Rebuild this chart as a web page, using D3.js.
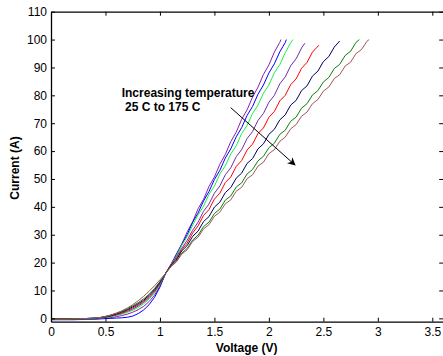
<!DOCTYPE html>
<html>
<head>
<meta charset="utf-8">
<script src="https://cdn.jsdelivr.net/npm/d3@7"></script>
<style>
  body { margin: 0; background: #fff; }
  svg text { font-family: "Liberation Sans", Arial, sans-serif; }
  .axis text { font-size: 12px; fill: #000; }
  .axis path, .axis line { stroke: #000; }
  .lbl { font-size: 12px; font-weight: bold; }
</style>
</head>
<body>
<div id="chart"></div>
<script>
// shared voltage grid (V)
const voltage = [0, 0.1, 0.2, 0.3, 0.4, 0.45, 0.5, 0.55, 0.6, 0.65, 0.7, 0.75, 0.8, 0.85, 0.9, 0.95, 1.0, 1.05,
  1.10, 1.15, 1.20, 1.25, 1.30, 1.35, 1.40, 1.45, 1.50, 1.55, 1.60, 1.65, 1.70, 1.75, 1.80, 1.85, 1.90, 1.95,
  2.00, 2.05, 2.10, 2.15, 2.20, 2.25, 2.30, 2.35, 2.40, 2.45, 2.50, 2.55, 2.60, 2.65, 2.70, 2.75, 2.80, 2.85, 2.90];

// current (A) per curve
const c1 = [-0.4, -0.4, -0.4, -0.3, -0.2, -0.1, 0.1, 0.3, 0.6, 1.0, 1.5, 2.2, 3.1, 4.3, 6.0, 8.3, 11.6, 16,
  19.3, 23.1, 26.6, 31.0, 34.6, 39.3, 42.7, 47.3, 50.7, 55.3, 58.8, 63.4, 66.8, 71.4, 74.8, 79.4, 82.9, 87.5, 90.9, 95.5, 99.0];
const c2 = [-0.5, -0.5, -0.5, -0.4, -0.3, -0.2, -0.1, 0, 0.1, 0.2, 0.4, 0.8, 1.7, 3.0, 4.9, 7.5, 11.2, 16,
  19.2, 22.6, 26.5, 30.0, 34.5, 37.8, 42.1, 45.5, 49.8, 53.1, 57.5, 60.8, 65.1, 68.4, 72.8, 76.0, 80.4, 83.7, 88.0, 91.3, 95.6, 98.9];
const c3 = [-0.3, -0.3, -0.3, -0.2, -0.1, 0.1, 0.3, 0.6, 1.0, 1.5, 2.1, 2.9, 3.9, 5.2, 6.9, 9.1, 12.1, 16,
  19.2, 22.3, 26.2, 29.3, 33.4, 37.1, 40.2, 44.5, 47.4, 51.8, 54.7, 59.0, 61.9, 66.3, 69.2, 73.5, 76.5, 80.8, 83.7, 88.1, 91.0,
  95.3, 98.9];
const c4 = [-0.3, -0.3, -0.2, -0.2, 0, 0.1, 0.4, 0.8, 1.2, 1.8, 2.5, 3.3, 4.4, 5.7, 7.4, 9.5, 12.4, 16,
  19.0, 21.9, 25.1, 28.0, 31.6, 34.5, 38.4, 41.0, 44.9, 47.5, 51.5, 54.0, 58.0, 60.5, 64.5, 67.0, 71.0, 73.5, 77.5, 80.0, 84.1,
  86.6, 90.6, 93.1, 97.0];
const c5 = [-0.3, -0.2, -0.2, -0.1, 0, 0.2, 0.5, 0.9, 1.4, 2.0, 2.8, 3.7, 4.8, 6.1, 7.8, 9.9, 12.7, 16,
  19.0, 21.3, 24.6, 27.0, 30.6, 33.2, 36.9, 39.0, 42.8, 44.9, 48.7, 50.7, 54.5, 56.6, 60.4, 62.5, 66.3, 68.3, 72.1, 74.2, 78.0, 80.0,
  83.8, 85.9, 89.7, 91.8, 95.5];
const c6 = [-0.2, -0.2, -0.2, -0.1, 0.1, 0.3, 0.6, 1.0, 1.6, 2.3, 3.1, 4.1, 5.2, 6.5, 8.2, 10.3, 13.0, 16,
  18.9, 20.9, 24.2, 26.1, 29.4, 31.3, 34.7, 36.5, 39.9, 41.7, 45.1, 46.9, 50.3, 52.1, 55.6, 57.3, 60.8, 62.6, 66.0, 67.8, 71.2, 73.0,
  76.5, 78.2, 81.7, 83.4, 86.9, 88.7, 92.1, 93.9, 97.3];
const c7 = [-0.3, -0.3, -0.2, -0.1, 0.1, 0.3, 0.7, 1.2, 1.8, 2.5, 3.4, 4.5, 5.6, 7.0, 8.6, 10.7, 13.2, 16,
  18.6, 20.4, 23.4, 25.1, 28.1, 29.8, 32.9, 34.5, 37.6, 39.2, 42.4, 43.9, 47.1, 48.6, 51.8, 53.4, 56.5, 58.1, 61.2, 62.8, 66.0, 67.5,
  70.7, 72.2, 75.4, 77.0, 80.1, 81.7, 84.8, 86.4, 89.6, 91.1, 94.3, 95.8, 99.0];
const c8 = [-0.3, -0.3, -0.2, -0.1, 0.1, 0.3, 0.7, 1.2, 1.9, 2.7, 3.7, 4.9, 6.3, 7.9, 9.7, 11.7, 13.8, 16,
  18.5, 20.2, 23.0, 24.6, 27.6, 29.1, 32.1, 33.6, 36.6, 38.1, 41.1, 42.5, 45.6, 47.0, 50.1, 51.5, 54.6, 56.0, 59.1, 60.5, 63.5, 65.0,
  68.0, 69.5, 72.5, 74.0, 77.0, 78.5, 81.5, 83.0, 86.0, 87.4, 90.5, 91.9, 95.0, 96.4, 99.4];

// last point of each curve
const endVoltage = [2.11, 2.16, 2.22, 2.33, 2.46, 2.65, 2.83, 2.92];
const endCurrent = [100, 100, 100, 98.7, 98, 99.5, 100, 100];

const currents = [c1, c2, c3, c4, c5, c6, c7, c8];
const colors = ["#8e1fb0", "#0000ff", "#1cf03c", "#6d2fae", "#ff0000", "#000060", "#0a800a", "#9c5858"];

const xTicks = [0, 0.5, 1, 1.5, 2, 2.5, 3, 3.5];
const yTicks = [0, 10, 20, 30, 40, 50, 60, 70, 80, 90, 100, 110];

const width = 443, height = 356;
const margin = { top: 11.7, right: -0.2, bottom: 34.3, left: 51 };
const w = width - margin.left - margin.right,
      h = height - margin.top - margin.bottom;

const svg = d3.select("#chart").append("svg")
    .attr("width", width)
    .attr("height", height);

const g = svg.append("g")
    .attr("transform", `translate(${margin.left},${margin.top})`);

const x = d3.scaleLinear().domain([0, 3.6]).range([0, w]);
const y = d3.scaleLinear().domain([-1.2, 110]).range([h, 0]);

// curves
const line = d3.line()
    .x(d => x(d[0]))
    .y(d => y(d[1]));

currents.forEach((cur, i) => {
    const pts = cur.map((v, j) => [voltage[j], v]);
    pts.push([endVoltage[i], endCurrent[i]]);
    g.append("path")
      .datum(pts)
      .attr("fill", "none")
      .attr("stroke", colors[i])
      .attr("stroke-width", 1)
      .attr("d", line);
});

// axes, matlab style box with inward ticks
const fmt = d => String(d);
g.append("g").attr("class", "axis")
    .attr("transform", `translate(0,${h})`)
    .call(d3.axisBottom(x).tickValues(xTicks).tickFormat(fmt).tickSizeInner(-4).tickSizeOuter(0).tickPadding(6));
g.append("g").attr("class", "axis")
    .call(d3.axisTop(x).tickValues(xTicks).tickFormat("").tickSizeInner(-4).tickSizeOuter(0));
g.append("g").attr("class", "axis")
    .call(d3.axisLeft(y).tickValues(yTicks).tickFormat(fmt).tickSizeInner(-4).tickSizeOuter(0).tickPadding(4));
g.append("g").attr("class", "axis")
    .attr("transform", `translate(${w},0)`)
    .call(d3.axisRight(y).tickValues(yTicks).tickFormat("").tickSizeInner(-4).tickSizeOuter(0));
g.selectAll(".axis .domain").attr("stroke-width", 1.3);

// annotation
g.append("text").attr("class", "lbl")
    .attr("x", x(0.649)).attr("y", y(79.4))
    .text("Increasing temperature");
g.append("text").attr("class", "lbl")
    .attr("x", x(0.679)).attr("y", y(74.4))
    .text("25 C to 175 C");

svg.append("defs").append("marker")
    .attr("id", "arrow")
    .attr("viewBox", "0 0 10 10")
    .attr("refX", 9).attr("refY", 5)
    .attr("markerWidth", 10).attr("markerHeight", 8)
    .attr("markerUnits", "userSpaceOnUse")
    .attr("orient", "auto")
  .append("path")
    .attr("d", "M0,0 L10,5 L0,10 L3,5 Z")
    .attr("fill", "#000");

g.append("line")
    .attr("x1", x(1.649)).attr("y1", y(75.6))
    .attr("x2", x(2.24)).attr("y2", y(55.0))
    .attr("stroke", "#000")
    .attr("stroke-width", 1)
    .attr("marker-end", "url(#arrow)");

// axis titles
svg.append("text").attr("class", "lbl")
    .attr("x", 246.7).attr("y", 351.5)
    .attr("text-anchor", "middle")
    .text("Voltage (V)");
svg.append("text").attr("class", "lbl")
    .attr("transform", "translate(18.5,168) rotate(-90)")
    .attr("text-anchor", "middle")
    .text("Current (A)");
</script>
</body>
</html>
